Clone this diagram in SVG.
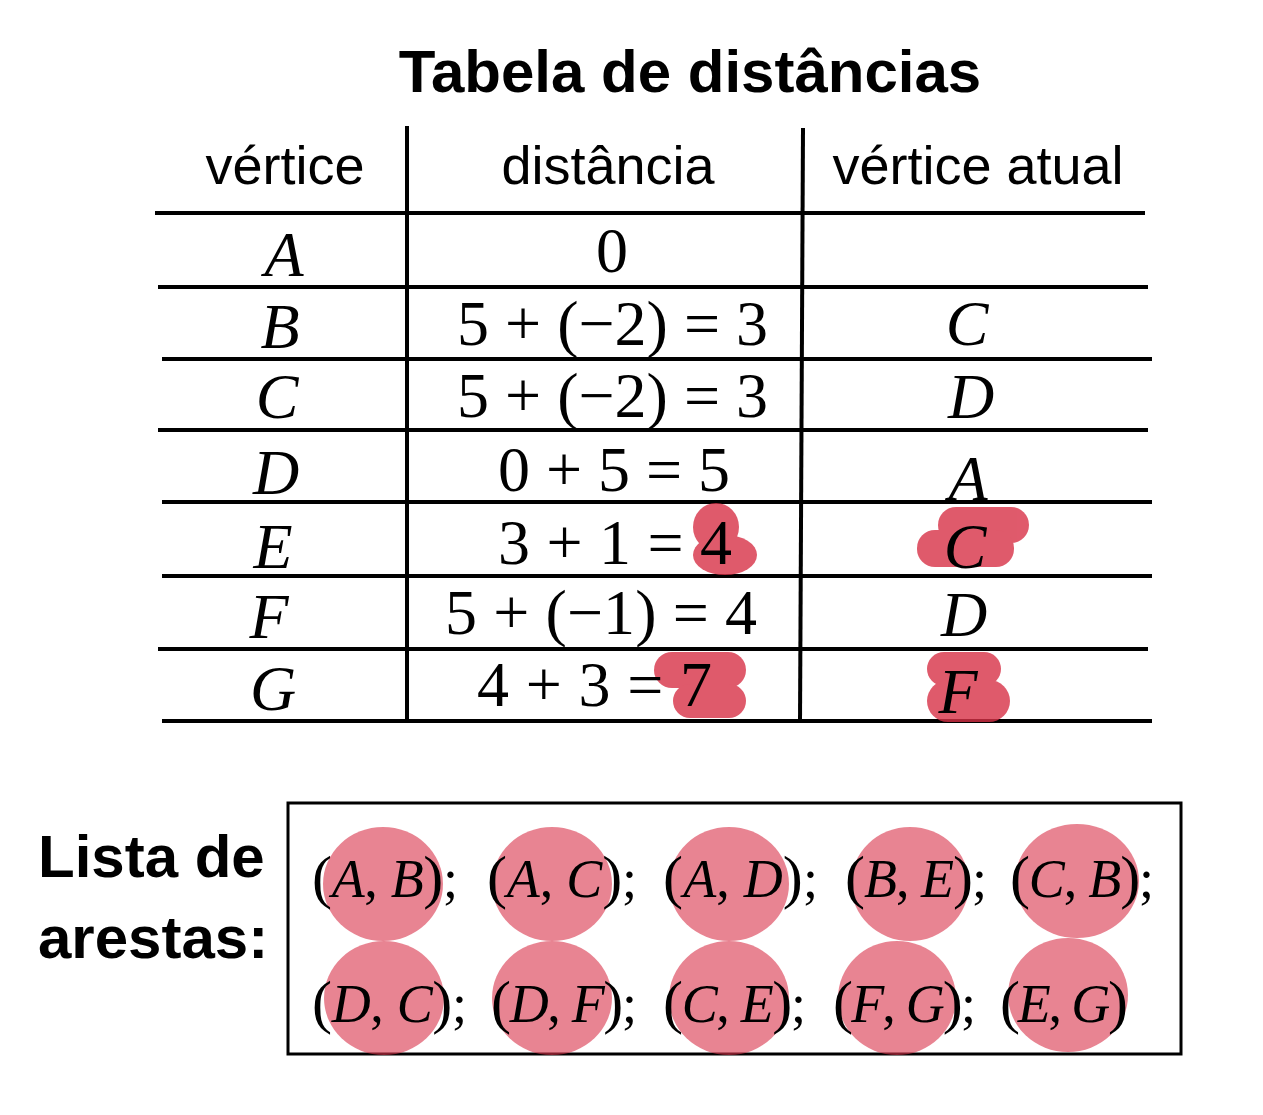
<svg xmlns="http://www.w3.org/2000/svg" width="1263" height="1115" viewBox="0 0 1263 1115">
<style>
.title{font-family:"Liberation Sans",Arial,sans-serif;font-weight:bold;font-size:60px;fill:#000}
.hdr{font-family:"Liberation Sans",Arial,sans-serif;font-size:54px;fill:#000;text-anchor:middle}
.m{font-family:"Liberation Serif","Times New Roman",serif;font-size:64px;fill:#000}
.mc{text-anchor:middle}
.i{font-style:italic}
.p{font-size:60px}
.e{font-family:"Liberation Serif","Times New Roman",serif;font-size:54px;fill:#000}
.ln{stroke:#000;stroke-width:4;fill:none}
.hl{fill:#d83147}
.ov{fill:#d9324a;fill-opacity:0.6}
</style>
<rect width="1263" height="1115" fill="#fff"/>
<g id="title"><text class="title" x="690" y="92" text-anchor="middle">Tabela de distâncias</text></g>
<g id="table-lines">
<line class="ln" x1="407" y1="126" x2="407" y2="722"/>
<line class="ln" x1="803" y1="128" x2="800" y2="722"/>
<line class="ln" x1="155" y1="213" x2="1145" y2="213"/>
<line class="ln" x1="158" y1="287" x2="1148" y2="287"/>
<line class="ln" x1="162" y1="359" x2="1152" y2="359"/>
<line class="ln" x1="158" y1="430" x2="1148" y2="430"/>
<line class="ln" x1="162" y1="502" x2="1152" y2="502"/>
<line class="ln" x1="162" y1="576" x2="1152" y2="576"/>
<line class="ln" x1="158" y1="649" x2="1148" y2="649"/>
<line class="ln" x1="162" y1="721" x2="1152" y2="721"/>
</g>
<g id="highlights" opacity="0.8">
<ellipse class="hl" cx="716" cy="527" rx="23" ry="24"/>
<ellipse class="hl" cx="725" cy="555" rx="32" ry="20"/>
<rect class="hl" x="938" y="507" width="91" height="36" rx="18"/>
<rect class="hl" x="917" y="530" width="97" height="37" rx="18"/>
<rect class="hl" x="654" y="652" width="92" height="36" rx="18"/>
<rect class="hl" x="673" y="684" width="73" height="34" rx="17"/>
<rect class="hl" x="927" y="652" width="74" height="34" rx="17"/>
<rect class="hl" x="927" y="680" width="83" height="42" rx="21"/>
</g>
<g id="header">
<text class="hdr" x="285" y="184">vértice</text>
<text class="hdr" x="608" y="184">distância</text>
<text class="hdr" x="978" y="184">vértice atual</text>
</g>
<g id="col-vertex">
<text class="m mc i" x="284" y="276">A</text>
<text class="m mc i" x="280" y="348">B</text>
<text class="m mc i" x="277" y="418">C</text>
<text class="m mc i" x="276" y="494">D</text>
<text class="m mc i" x="273" y="568">E</text>
<text class="m mc i" x="269" y="638">F</text>
<text class="m mc i" x="273" y="710">G</text>
</g>
<g id="col-distance">
<text class="m mc" x="612" y="272">0</text>
<text class="m" x="457" y="345" textLength="311" lengthAdjust="spacing">5 + (−2) = 3</text>
<text class="m" x="457" y="417" textLength="311" lengthAdjust="spacing">5 + (−2) = 3</text>
<text class="m" x="498" y="491" textLength="232" lengthAdjust="spacing">0 + 5 = 5</text>
<text class="m" x="498" y="564" textLength="234" lengthAdjust="spacing">3 + 1 = 4</text>
<text class="m" x="445" y="634" textLength="312" lengthAdjust="spacing">5 + (−1) = 4</text>
<text class="m" x="477" y="706" textLength="235" lengthAdjust="spacing">4 + 3 = 7</text>
</g>
<g id="col-current">
<text class="m mc i" x="967" y="345">C</text>
<text class="m mc i" x="971" y="418">D</text>
<text class="m mc i" x="968" y="500">A</text>
<text class="m mc i" x="965" y="568">C</text>
<text class="m mc i" x="964" y="636">D</text>
<text class="m mc i" x="958" y="713">F</text>
</g>
<g id="label-edges">
<text class="title" x="38" y="877">Lista de</text>
<text class="title" x="38" y="958">arestas:</text>
</g>
<g id="edge-box">
<rect x="288" y="803" width="893" height="251" fill="none" stroke="#000" stroke-width="3"/>
</g>
<g id="edge-marks">
<ellipse class="ov" cx="383" cy="884" rx="60" ry="57"/>
<ellipse class="ov" cx="552" cy="884" rx="60" ry="57"/>
<ellipse class="ov" cx="729" cy="884" rx="60" ry="57"/>
<ellipse class="ov" cx="910" cy="884" rx="59" ry="57"/>
<ellipse class="ov" cx="1077" cy="881" rx="62" ry="57"/>
<ellipse class="ov" cx="384" cy="998" rx="60" ry="57"/>
<ellipse class="ov" cx="552" cy="998" rx="60" ry="57"/>
<ellipse class="ov" cx="729" cy="998" rx="60" ry="57"/>
<ellipse class="ov" cx="897" cy="998" rx="59" ry="57"/>
<ellipse class="ov" cx="1068" cy="995" rx="60" ry="57"/>
</g>
<g id="edges">
<text class="e" x="312" y="897" textLength="146" lengthAdjust="spacing"><tspan class="p">(</tspan><tspan class="i">A</tspan>, <tspan class="i">B</tspan><tspan class="p">)</tspan>;</text>
<text class="e" x="487" y="897" textLength="150" lengthAdjust="spacing"><tspan class="p">(</tspan><tspan class="i">A</tspan>, <tspan class="i">C</tspan><tspan class="p">)</tspan>;</text>
<text class="e" x="663" y="897" textLength="155" lengthAdjust="spacing"><tspan class="p">(</tspan><tspan class="i">A</tspan>, <tspan class="i">D</tspan><tspan class="p">)</tspan>;</text>
<text class="e" x="845" y="897" textLength="142" lengthAdjust="spacing"><tspan class="p">(</tspan><tspan class="i">B</tspan>, <tspan class="i">E</tspan><tspan class="p">)</tspan>;</text>
<text class="e" x="1010" y="897" textLength="144" lengthAdjust="spacing"><tspan class="p">(</tspan><tspan class="i">C</tspan>, <tspan class="i">B</tspan><tspan class="p">)</tspan>;</text>
<text class="e" x="312" y="1022" textLength="155" lengthAdjust="spacing"><tspan class="p">(</tspan><tspan class="i">D</tspan>, <tspan class="i">C</tspan><tspan class="p">)</tspan>;</text>
<text class="e" x="491" y="1022" textLength="146" lengthAdjust="spacing"><tspan class="p">(</tspan><tspan class="i">D</tspan>, <tspan class="i">F</tspan><tspan class="p">)</tspan>;</text>
<text class="e" x="663" y="1022" textLength="143" lengthAdjust="spacing"><tspan class="p">(</tspan><tspan class="i">C</tspan>, <tspan class="i">E</tspan><tspan class="p">)</tspan>;</text>
<text class="e" x="833" y="1022" textLength="143" lengthAdjust="spacing"><tspan class="p">(</tspan><tspan class="i">F</tspan>, <tspan class="i">G</tspan><tspan class="p">)</tspan>;</text>
<text class="e" x="1000" y="1022" textLength="128" lengthAdjust="spacing"><tspan class="p">(</tspan><tspan class="i">E</tspan>, <tspan class="i">G</tspan><tspan class="p">)</tspan></text>
</g>
</svg>
